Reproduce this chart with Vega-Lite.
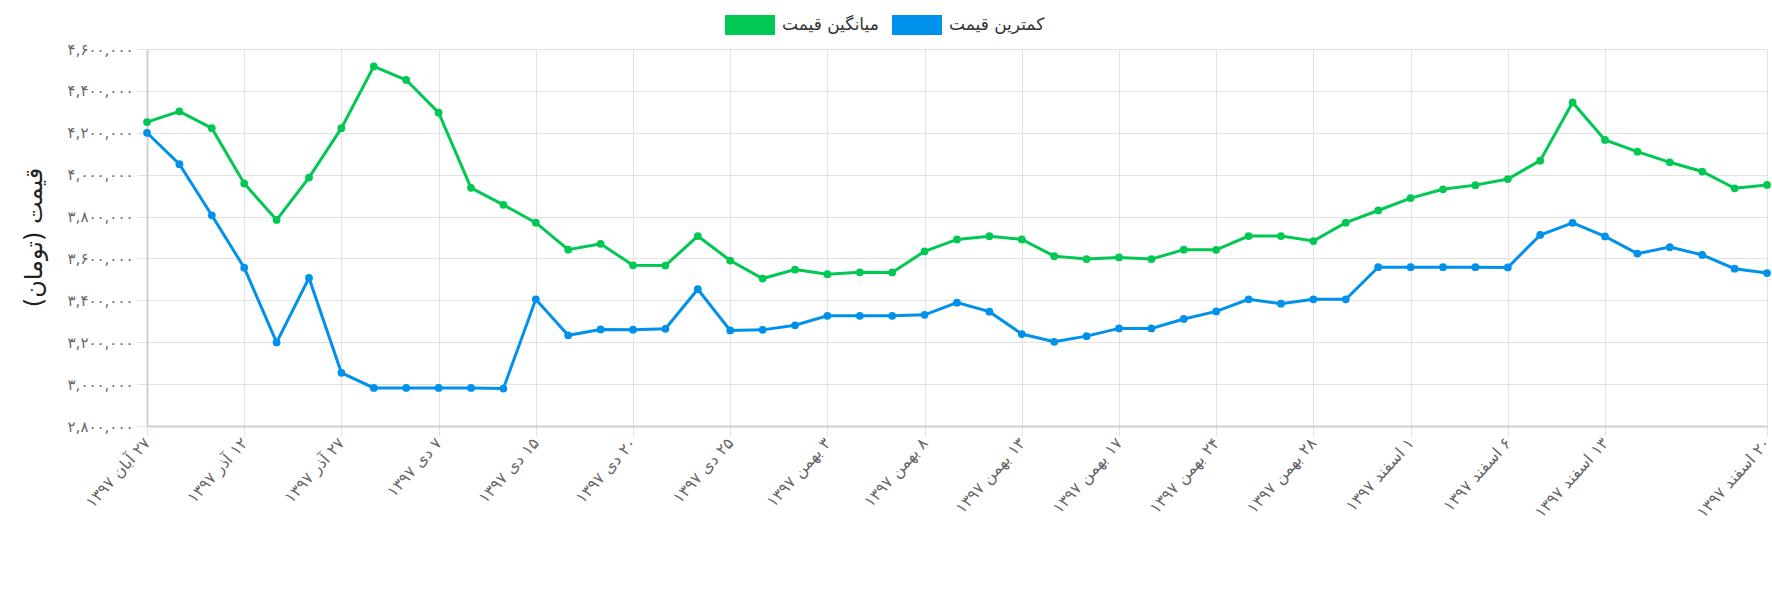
{
  "$schema": "https://vega.github.io/schema/vega-lite/v6.json",
  "width": 1620,
  "height": 377,
  "autosize": "none",
  "padding": {"left": 147, "top": 49, "right": 5, "bottom": 165},
  "background": "#ffffff",
  "data": {
    "values": [
      {"date": "۲۷ آبان ۱۳۹۷", "avg": 4251000, "min": 4200000},
      {"date": "۲ آذر ۱۳۹۷", "avg": 4302000, "min": 4050000},
      {"date": "۷ آذر ۱۳۹۷", "avg": 4222000, "min": 3806000},
      {"date": "۱۲ آذر ۱۳۹۷", "avg": 3958000, "min": 3556000},
      {"date": "۱۷ آذر ۱۳۹۷", "avg": 3784000, "min": 3199000},
      {"date": "۲۲ آذر ۱۳۹۷", "avg": 3986000, "min": 3507000},
      {"date": "۲۷ آذر ۱۳۹۷", "avg": 4222000, "min": 3054000},
      {"date": "۱ دی ۱۳۹۷", "avg": 4517000, "min": 2982000},
      {"date": "۴ دی ۱۳۹۷", "avg": 4452000, "min": 2982000},
      {"date": "۷ دی ۱۳۹۷", "avg": 4296000, "min": 2982000},
      {"date": "۱۰ دی ۱۳۹۷", "avg": 3937000, "min": 2982000},
      {"date": "۱۲ دی ۱۳۹۷", "avg": 3856000, "min": 2979000},
      {"date": "۱۵ دی ۱۳۹۷", "avg": 3771000, "min": 3405000},
      {"date": "۱۶ دی ۱۳۹۷", "avg": 3642000, "min": 3233000},
      {"date": "۱۸ دی ۱۳۹۷", "avg": 3670000, "min": 3261000},
      {"date": "۲۰ دی ۱۳۹۷", "avg": 3567000, "min": 3260000},
      {"date": "۲۲ دی ۱۳۹۷", "avg": 3566000, "min": 3264000},
      {"date": "۲۳ دی ۱۳۹۷", "avg": 3707000, "min": 3453000},
      {"date": "۲۵ دی ۱۳۹۷", "avg": 3590000, "min": 3256000},
      {"date": "۲۷ دی ۱۳۹۷", "avg": 3504000, "min": 3259000},
      {"date": "۳۰ دی ۱۳۹۷", "avg": 3547000, "min": 3281000},
      {"date": "۳ بهمن ۱۳۹۷", "avg": 3525000, "min": 3326000},
      {"date": "۵ بهمن ۱۳۹۷", "avg": 3534000, "min": 3326000},
      {"date": "۶ بهمن ۱۳۹۷", "avg": 3533000, "min": 3326000},
      {"date": "۸ بهمن ۱۳۹۷", "avg": 3634000, "min": 3331000},
      {"date": "۱۰ بهمن ۱۳۹۷", "avg": 3691000, "min": 3389000},
      {"date": "۱۱ بهمن ۱۳۹۷", "avg": 3706000, "min": 3346000},
      {"date": "۱۳ بهمن ۱۳۹۷", "avg": 3691000, "min": 3239000},
      {"date": "۱۴ بهمن ۱۳۹۷", "avg": 3611000, "min": 3202000},
      {"date": "۱۵ بهمن ۱۳۹۷", "avg": 3597000, "min": 3229000},
      {"date": "۱۷ بهمن ۱۳۹۷", "avg": 3605000, "min": 3266000},
      {"date": "۲۰ بهمن ۱۳۹۷", "avg": 3597000, "min": 3266000},
      {"date": "۲۲ بهمن ۱۳۹۷", "avg": 3642000, "min": 3311000},
      {"date": "۲۴ بهمن ۱۳۹۷", "avg": 3641000, "min": 3347000},
      {"date": "۲۵ بهمن ۱۳۹۷", "avg": 3707000, "min": 3405000},
      {"date": "۲۷ بهمن ۱۳۹۷", "avg": 3707000, "min": 3384000},
      {"date": "۲۸ بهمن ۱۳۹۷", "avg": 3683000, "min": 3405000},
      {"date": "۲۹ بهمن ۱۳۹۷", "avg": 3771000, "min": 3405000},
      {"date": "۳۰ بهمن ۱۳۹۷", "avg": 3829000, "min": 3558000},
      {"date": "۱ اسفند ۱۳۹۷", "avg": 3888000, "min": 3558000},
      {"date": "۳ اسفند ۱۳۹۷", "avg": 3930000, "min": 3558000},
      {"date": "۴ اسفند ۱۳۹۷", "avg": 3950000, "min": 3558000},
      {"date": "۶ اسفند ۱۳۹۷", "avg": 3979000, "min": 3557000},
      {"date": "۸ اسفند ۱۳۹۷", "avg": 4067000, "min": 3712000},
      {"date": "۱۱ اسفند ۱۳۹۷", "avg": 4345000, "min": 3770000},
      {"date": "۱۳ اسفند ۱۳۹۷", "avg": 4166000, "min": 3705000},
      {"date": "۱۴ اسفند ۱۳۹۷", "avg": 4110000, "min": 3623000},
      {"date": "۱۵ اسفند ۱۳۹۷", "avg": 4059000, "min": 3654000},
      {"date": "۱۶ اسفند ۱۳۹۷", "avg": 4015000, "min": 3617000},
      {"date": "۱۸ اسفند ۱۳۹۷", "avg": 3935000, "min": 3551000},
      {"date": "۲۰ اسفند ۱۳۹۷", "avg": 3951000, "min": 3530000}
    ]
  },
  "transform": [{"fold": ["avg", "min"], "as": ["series", "price"]}],
  "mark": {
    "type": "line",
    "strokeWidth": 3,
    "point": {"filled": true, "size": 60, "opacity": 1}
  },
  "encoding": {
    "x": {
      "field": "date",
      "type": "nominal",
      "sort": null,
      "title": null,
      "scale": {"type": "point", "padding": 0},
      "axis": {
        "values": [
          "۲۷ آبان ۱۳۹۷", "۱۲ آذر ۱۳۹۷", "۲۷ آذر ۱۳۹۷", "۷ دی ۱۳۹۷",
          "۱۵ دی ۱۳۹۷", "۲۰ دی ۱۳۹۷", "۲۵ دی ۱۳۹۷", "۳ بهمن ۱۳۹۷",
          "۸ بهمن ۱۳۹۷", "۱۳ بهمن ۱۳۹۷", "۱۷ بهمن ۱۳۹۷", "۲۴ بهمن ۱۳۹۷",
          "۲۸ بهمن ۱۳۹۷", "۱ اسفند ۱۳۹۷", "۶ اسفند ۱۳۹۷", "۱۳ اسفند ۱۳۹۷",
          "۲۰ اسفند ۱۳۹۷"
        ],
        "labelExpr": "'\u202b' + datum.label + '\u202c'",
        "labelAngle": -48,
        "labelAlign": "right",
        "labelBaseline": "middle",
        "labelPadding": 4,
        "labelFontSize": 16,
        "labelColor": "#666666",
        "tickSize": 10,
        "grid": true
      }
    },
    "y": {
      "field": "price",
      "type": "quantitative",
      "scale": {"domain": [2800000, 4600000], "nice": false, "zero": false},
      "axis": {
        "values": [2800000, 3000000, 3200000, 3400000, 3600000, 3800000, 4000000, 4200000, 4400000, 4600000],
        "format": ",d",
        "title": "\u202bقیمت (تومان)\u202c",
        "titleX": -113,
        "titleY": 188,
        "titleAngle": -90,
        "titleAlign": "center",
        "titleBaseline": "middle",
        "titleFontSize": 24,
        "titleFontWeight": "normal",
        "titleColor": "#222222",
        "labelFontSize": 15,
        "labelColor": "#666666",
        "labelPadding": 4,
        "tickSize": 10,
        "grid": true
      }
    },
    "color": {
      "field": "series",
      "type": "nominal",
      "scale": {"domain": ["avg", "min"], "range": ["#00c853", "#0091ea"]},
      "legend": {
        "orient": "none",
        "legendX": 593,
        "legendY": -34,
        "direction": "horizontal",
        "title": null,
        "padding": 0,
        "symbolType": "M-2.5,-1H2.5V1H-2.5Z",
        "symbolSize": 400,
        "symbolStrokeWidth": 0,
        "labelOffset": 22,
        "columnPadding": 13,
        "labelFontSize": 17,
        "labelColor": "#333333",
        "labelExpr": "datum.label == 'avg' ? 'میانگین قیمت' : 'کمترین قیمت'",
        "encode": {
          "symbols": {
            "update": {
              "fill": {"scale": "color", "field": "value"},
              "stroke": {"value": "transparent"},
              "opacity": {"value": 1}
            }
          }
        }
      }
    }
  },
  "config": {
    "font": "DejaVu Sans",
    "locale": {
      "number": {
        "decimal": ".",
        "thousands": ",",
        "grouping": [3],
        "currency": ["", ""],
        "numerals": ["۰", "۱", "۲", "۳", "۴", "۵", "۶", "۷", "۸", "۹"]
      }
    },
    "axis": {
      "gridColor": "#e2e2e2",
      "gridWidth": 1,
      "tickColor": "#e2e2e2",
      "domainColor": "#d0d0d0",
      "domainWidth": 2
    },
    "view": {"stroke": null}
  }
}
